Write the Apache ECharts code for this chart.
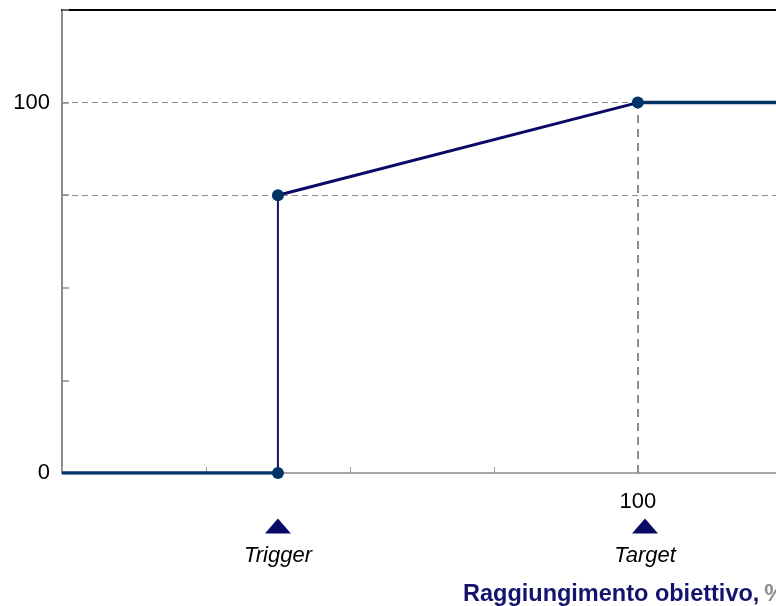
<!DOCTYPE html>
<html><head><meta charset="utf-8">
<script src="https://cdn.jsdelivr.net/npm/echarts@6/dist/echarts.min.js"></script>
<style>html,body{margin:0;padding:0;background:#fff}#c{width:776px;height:606px}</style>
</head><body><div id="c"></div>
<script>
const baseSeg = [[60, 0], [75, 0]];
const jumpSeg = [[75, 0], [75, 75]];
const rampSeg = [[75, 75], [100, 100]];
const capSeg = [[100, 100], [110, 100]];
const keyPoints = [[75, 0], [75, 75], [100, 100]];
const markerNames = ['Trigger', 'Target'];
const markerX = [75, 100.5];
const yLabels = [0, 100];
const xLabels = [100];
const X_MIN = 60, X_MAX = 109.6;
const dash = {color: '#8c8c8c', width: 1, type: [6, 4]};

const chart = echarts.init(document.getElementById('c'));
chart.setOption({
  animation: false,
  title: {
    left: 458, top: 578,
    text: '{a|Raggiungimento obiettivo,} {b|%}',
    textStyle: {rich: {
      a: {fontFamily: 'Liberation Sans', fontWeight: 'bold', fontSize: 23.5, color: '#14146e'},
      b: {fontFamily: 'Liberation Sans', fontSize: 23.5, color: '#8c8c8c'}
    }}
  },
  grid: [
    {left: 62, top: 10, right: 0, height: 463},
    {left: 62, top: 519, right: 0, height: 14}
  ],
  xAxis: [
    {type: 'value', min: X_MIN, max: X_MAX, interval: 10, gridIndex: 0,
      axisLine: {lineStyle: {color: '#8c8c8c', width: 1.5}},
      axisTick: {inside: true, length: 6, lineStyle: {color: '#a0a0a0'}},
      axisLabel: {margin: 18, fontSize: 22, fontFamily: 'Liberation Sans', color: '#000',
        showMaxLabel: false,
        formatter: v => xLabels.includes(v) ? String(v) : ''},
      splitLine: {show: false}},
    {type: 'value', min: X_MIN, max: X_MAX, gridIndex: 0, position: 'top',
      axisLine: {show: true, onZero: false, lineStyle: {color: '#000', width: 2}},
      axisTick: {show: false}, axisLabel: {show: false}, splitLine: {show: false}},
    {type: 'value', min: X_MIN, max: X_MAX, gridIndex: 1, show: false}
  ],
  yAxis: [
    {type: 'value', min: 0, max: 125, interval: 25, gridIndex: 0,
      axisLine: {show: true, lineStyle: {color: '#8c8c8c', width: 2}},
      axisTick: {show: true, inside: true, length: 7, lineStyle: {color: '#8c8c8c', width: 1.5}},
      axisLabel: {margin: 12, fontSize: 22, fontFamily: 'Liberation Sans', color: '#000',
        formatter: v => yLabels.includes(v) ? String(v) : ''},
      splitLine: {show: false}},
    {type: 'value', min: 0, max: 1, gridIndex: 1, show: false}
  ],
  series: [
    {type: 'line', data: baseSeg, symbol: 'none', lineStyle: {color: '#003366', width: 3.5},
      markLine: {silent: true, symbol: 'none', label: {show: false}, data: [
        [{coord: [X_MIN, 100], lineStyle: dash}, {coord: [100, 100]}],
        {yAxis: 75, lineStyle: dash},
        [{coord: [100, 0], lineStyle: {color: '#8c8c8c', width: 2, type: [8, 6]}}, {coord: [100, 100]}]
      ]}},
    {type: 'line', data: jumpSeg, symbol: 'none', lineStyle: {color: '#14146e', width: 2}},
    {type: 'line', data: rampSeg, symbol: 'none', lineStyle: {color: '#0a0a66', width: 3}},
    {type: 'line', data: capSeg, symbol: 'none', lineStyle: {color: '#003366', width: 3.5}},
    {type: 'scatter', data: keyPoints, symbol: 'circle', symbolSize: 12,
      itemStyle: {color: '#003366', opacity: 1}, z: 5},
    {type: 'scatter', xAxisIndex: 2, yAxisIndex: 1, symbol: 'triangle', symbolSize: [26, 15],
      itemStyle: {color: '#0a0a66', opacity: 1},
      data: markerX.map((x, i) => ({value: [x, 0.5], name: markerNames[i]})),
      label: {show: true, position: 'bottom', distance: 11, formatter: p => p.name,
        fontSize: 22, fontStyle: 'italic', fontFamily: 'Liberation Sans', color: '#000'}}
  ]
});
</script></body></html>
